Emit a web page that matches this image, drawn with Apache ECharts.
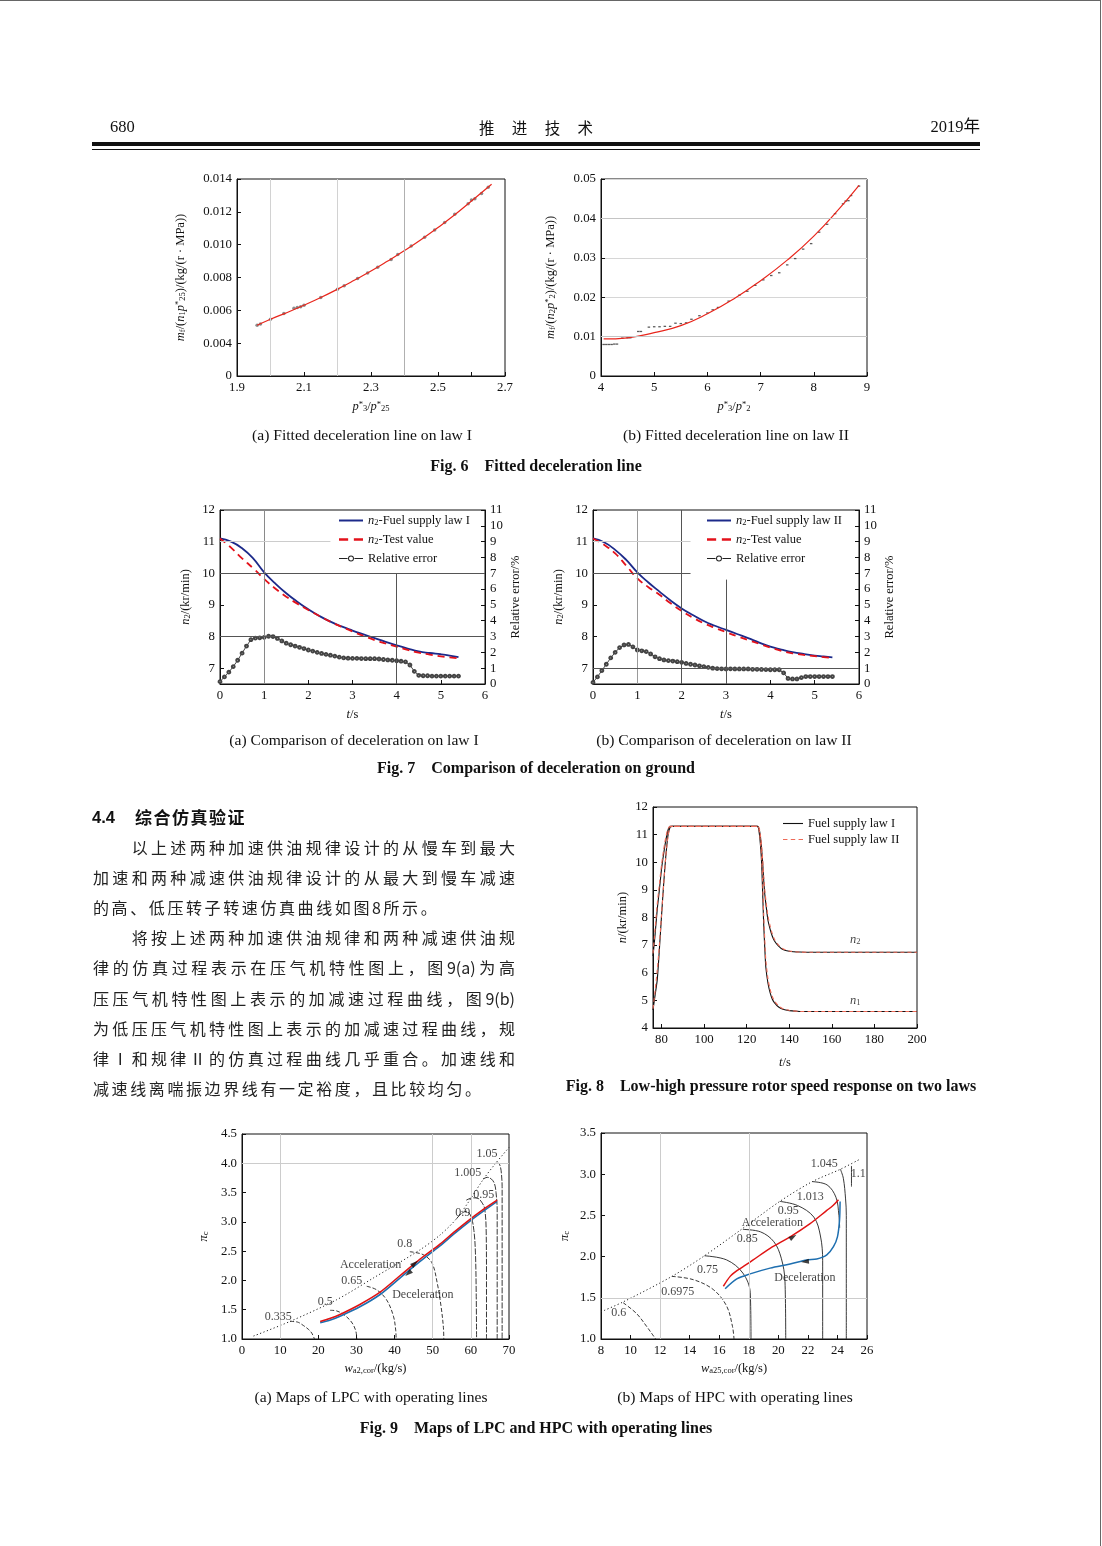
<!DOCTYPE html>
<html><head><meta charset="utf-8">
<script src="https://cdn.jsdelivr.net/npm/echarts@6/dist/echarts.min.js"></script>
<style>
html,body{margin:0;padding:0;background:#fff;}
#page{position:relative;width:1102px;height:1546px;overflow:hidden;background:#fff;}
#chart{position:absolute;left:0;top:0;width:1102px;height:1546px;}
.t{position:absolute;white-space:nowrap;color:#111;}
.cap{position:absolute;width:500px;text-align:center;font-family:'Liberation Serif',serif;font-size:15.6px;line-height:18px;color:#111;white-space:pre;}
.fig{font-weight:bold;font-size:16px;}
.para{position:absolute;left:93px;width:422px;font-family:'Noto Sans CJK SC',sans-serif;font-size:16px;line-height:20px;color:#222;}
.just{text-align:justify;text-align-last:justify;}
.last{letter-spacing:2.6px;}
</style></head>
<body><div id="page"><div id="chart"></div></div>
<script>
// ---------------- DATA ----------------
// Fig.6(a)
const fig6aFitX = [1.96,2.0,2.05,2.1,2.15,2.2,2.25,2.3,2.35,2.4,2.45,2.5,2.55,2.6,2.66];
const fig6aFitY = [0.00509,0.00546,0.00587,0.00631,0.00678,0.00729,0.00783,0.00839,0.00900,0.00964,0.01032,0.01105,0.01182,0.01266,0.01368];
const fig6aPtsX = [1.96,1.97,2.0,2.04,2.07,2.08,2.09,2.1,2.15,2.2,2.22,2.26,2.29,2.32,2.36,2.38,2.42,2.46,2.49,2.52,2.55,2.59,2.6,2.61,2.63,2.65];
const fig6aPtsY = [0.00509,0.00516,0.00546,0.00580,0.00612,0.00618,0.00622,0.00631,0.00678,0.00728,0.00750,0.00794,0.00828,0.00862,0.00910,0.00940,0.00992,0.01045,0.01090,0.01135,0.01185,0.01250,0.01272,0.01280,0.01312,0.01350];
const fig6aYTicks = ['0','0.004','0.006','0.008','0.010','0.012','0.014'];
const fig6aXTicks = [1.9,2.1,2.3,2.5,2.7];
// Fig.6(b)
const fig6bFitX = [4.05,4.5,5,5.5,6,6.5,7,7.5,8,8.5,8.85];
const fig6bFitY = [0.0094,0.0097,0.0110,0.0128,0.0158,0.0196,0.0242,0.0294,0.0355,0.0428,0.0484];
const fig6bPtsX = [4.05,4.1,4.15,4.2,4.25,4.3,4.4,4.5,4.55,4.7,4.75,4.9,5.0,5.1,5.2,5.3,5.4,5.5,5.6,5.7,5.85,6.0,6.1,6.2,6.4,6.6,6.75,6.9,7.05,7.2,7.35,7.5,7.65,7.8,7.95,8.1,8.25,8.4,8.55,8.6,8.65,8.7,8.85];
const fig6bPtsY = [0.0080,0.0080,0.0080,0.0080,0.0081,0.0081,0.0096,0.0097,0.0097,0.0113,0.0113,0.0124,0.0125,0.0125,0.0126,0.0126,0.0134,0.0133,0.0135,0.0144,0.0153,0.0160,0.0168,0.0174,0.0190,0.0205,0.0215,0.0230,0.0244,0.0255,0.0262,0.0282,0.0298,0.0322,0.0336,0.0365,0.0385,0.0412,0.0437,0.0444,0.0445,0.0458,0.0482];
// Fig.7
const fig7T = [0,0.25,0.5,0.75,1,1.25,1.5,1.75,2,2.25,2.5,2.75,3,3.25,3.5,3.75,4,4.25,4.5,4.75,5,5.2,5.4];
const fig7aLaw = [11.10,11.00,10.79,10.47,10.03,9.68,9.37,9.10,8.86,8.65,8.47,8.32,8.19,8.07,7.95,7.83,7.72,7.62,7.53,7.48,7.44,7.40,7.35];
const fig7aTest = [11.10,10.81,10.47,10.16,9.82,9.52,9.26,9.04,8.84,8.65,8.47,8.31,8.16,8.02,7.89,7.78,7.68,7.58,7.49,7.43,7.37,7.34,7.31];
const fig7bLaw = [11.10,10.98,10.74,10.42,10.03,9.71,9.42,9.14,8.89,8.68,8.49,8.34,8.21,8.08,7.95,7.81,7.68,7.59,7.51,7.45,7.40,7.37,7.34];
const fig7bTest = [11.10,10.90,10.63,10.24,9.84,9.56,9.32,9.05,8.81,8.60,8.42,8.27,8.14,8.01,7.89,7.77,7.65,7.55,7.47,7.42,7.38,7.35,7.32];
const fig7ErrT = [0,0.1,0.2,0.3,0.4,0.5,0.6,0.7,0.8,0.9,1.0,1.1,1.2,1.3,1.4,1.5,1.6,1.7,1.8,1.9,2.0,2.1,2.2,2.3,2.4,2.5,2.6,2.7,2.8,2.9,3.0,3.1,3.2,3.3,3.4,3.5,3.6,3.7,3.8,3.9,4.0,4.1,4.2,4.3,4.4,4.5,4.6,4.7,4.8,4.9,5.0,5.1,5.2,5.3,5.4];
const fig7aErr = [0.15,0.45,0.75,1.1,1.5,1.95,2.4,2.8,2.9,2.92,2.95,3.02,3.0,2.88,2.72,2.58,2.48,2.40,2.32,2.24,2.15,2.08,2.0,1.93,1.87,1.82,1.76,1.70,1.65,1.63,1.62,1.62,1.61,1.60,1.60,1.60,1.58,1.55,1.52,1.50,1.47,1.44,1.40,1.20,0.80,0.55,0.52,0.52,0.50,0.50,0.50,0.50,0.50,0.50,0.50];
const fig7bErr = [0.10,0.45,0.85,1.25,1.65,2.0,2.3,2.47,2.5,2.35,2.15,2.1,2.05,1.9,1.72,1.60,1.52,1.48,1.45,1.41,1.37,1.30,1.25,1.20,1.15,1.10,1.05,1.0,0.97,0.96,0.95,0.96,0.95,0.95,0.95,0.95,0.93,0.93,0.92,0.91,0.90,0.90,0.90,0.70,0.35,0.32,0.32,0.40,0.47,0.47,0.47,0.47,0.47,0.47,0.47];
const fig7LeftTicks = [7,8,9,10,11,12];
// Fig.8
const fig8T = [76,77,78,79,80,81,82,83,84,85,100,120,125,125.5,126,126.5,127,127.5,128,128.5,129,130,131,132,133,135,137,140,145,150,200];
const fig8N2Law1 = [6.6,7.4,8.3,9.0,9.75,10.3,10.78,11.15,11.3,11.3,11.3,11.3,11.3,11.28,11.15,10.9,10.5,10.0,9.35,8.85,8.5,7.9,7.58,7.33,7.16,6.96,6.84,6.78,6.75,6.74,6.74];
const fig8N1Law1 = [4.65,5.2,5.75,6.85,8.05,9.2,10.2,10.95,11.27,11.3,11.3,11.3,11.3,11.25,11.0,10.6,10.0,8.9,7.75,6.9,6.2,5.62,5.28,5.05,4.92,4.76,4.68,4.63,4.6,4.6,4.6];
const fig8N2Law2 = [6.7,7.6,8.5,9.2,9.9,10.45,10.9,11.2,11.3,11.3,11.3,11.3,11.3,11.28,11.2,10.95,10.6,10.1,9.5,9.0,8.65,8.05,7.7,7.42,7.22,7.0,6.87,6.79,6.75,6.74,6.74];
const fig8N1Law2 = [4.7,5.35,6.1,7.0,8.1,9.2,10.2,10.9,11.28,11.3,11.3,11.3,11.3,11.27,11.1,10.7,10.2,9.3,8.1,7.2,6.45,5.78,5.4,5.15,4.98,4.8,4.7,4.64,4.6,4.6,4.6];
const fig8XTicks = [80,100,120,140,160,180,200];
// Fig.9(a) LPC map
const lpcSurgeX = [3,12.6,24.8,34.4,46.6,52,56.2,59.5,63.2,66.5,70];
const lpcSurgeY = [1.05,1.30,1.67,2.04,2.52,2.78,3.05,3.35,3.72,4.0,4.27];
const lpcSpeedNames = ['0.335','0.5','0.65','0.8','0.9','0.95','1.005','1.05'];
const lpcSpeedX = [
  [12.6,14.5,16.1,17.5,18.3,19.0],
  [23.1,24.8,26.6,28.2,29.2,29.9,30.1],
  [32.7,35.3,37.9,39.7,40.3,40.4],
  [44.0,47.5,49.8,51.2,52.2,52.8,52.9],
  [56.2,57.5,58.8,60.0,60.8,61.2,61.4,61.5],
  [58.8,60.5,61.9,63.0,63.6,64.0,64.1,64.1],
  [63.2,64.3,65.4,66.2,66.6,66.9,66.9],
  [66.5,67.2,67.7,68.0,68.2,68.2]
];
const lpcSpeedY = [
  [1.30,1.29,1.23,1.16,1.10,1.0],
  [1.49,1.48,1.42,1.33,1.24,1.12,1.0],
  [1.90,1.84,1.67,1.39,1.15,1.0],
  [2.49,2.44,2.30,1.95,1.55,1.2,1.0],
  [3.05,3.14,3.18,3.10,2.85,2.47,1.8,1.0],
  [3.37,3.41,3.40,3.32,3.23,2.9,2.0,1.0],
  [3.73,3.76,3.73,3.65,3.5,3.2,1.0],
  [4.0,4.0,3.95,3.83,3.6,1.0]
];
const lpcOpX = [20.5,23,25.7,30.9,36.2,41.4,46.6,51.9,55.5,59.1,63,66.9];
const lpcAccY = [1.30,1.35,1.42,1.59,1.80,2.08,2.36,2.62,2.82,3.01,3.20,3.37];
const lpcDecY = [1.28,1.32,1.39,1.55,1.76,2.04,2.32,2.59,2.79,2.98,3.17,3.35];
const lpcLabelX = [9.5,21.8,28.8,42.7,57.9,63.4,59.2,64.2,33.7,47.4];
const lpcLabelY = [1.38,1.64,2.0,2.63,3.15,3.46,3.84,4.16,2.27,1.75];
const lpcLabelText = ['0.335','0.5','0.65','0.8','0.9','0.95','1.005','1.05','Acceleration','Deceleration'];
// Fig.9(b) HPC map
const hpcSurgeX = [8,9.5,12.8,15.0,17.5,20.1,22.3,24.2,25.5];
const hpcSurgeY = [1.33,1.45,1.76,2.01,2.33,2.67,2.91,3.06,3.18];
const hpcSpeedX = [
  [9.5,10.4,11.1,11.5,11.7],
  [12.8,14.25,15.6,16.5,16.9,17.0],
  [15.0,16.5,17.6,18.1,18.15],
  [17.6,18.8,19.7,20.2,20.45,20.5],
  [20.1,21.3,22.4,22.85,23.0,23.0],
  [22.3,23.3,23.9,24.1,24.15],
  [24.2,24.4,24.55,24.6,24.6],
  [24.95,24.95]
];
const hpcSpeedY = [
  [1.44,1.31,1.15,1.05,1.0],
  [1.76,1.72,1.6,1.4,1.15,1.0],
  [2.01,1.96,1.80,1.56,1.0],
  [2.33,2.30,2.18,1.98,1.7,1.0],
  [2.67,2.62,2.48,2.25,1.95,1.0],
  [2.91,2.87,2.72,2.5,2.35],
  [3.06,2.95,2.7,2.5,1.0],
  [3.1,2.85]
];
const hpcAccX = [16.28,16.74,17.2,17.64,18.3,19.44,20.8,22.15,23.28,23.7,24.07];
const hpcAccY = [1.64,1.76,1.83,1.88,1.96,2.10,2.24,2.40,2.56,2.62,2.69];
const hpcDecX = [24.18,24.14,24.0,23.73,23.28,22.6,21.93,20.8,19.44,18.09,17.19,16.4];
const hpcDecY = [2.67,2.44,2.24,2.12,2.02,1.97,1.96,1.91,1.86,1.79,1.73,1.61];
const hpcLabelX = [23.1,25.4,22.16,20.67,17.9,15.2,13.2,9.2,19.6,21.8];
const hpcLabelY = [3.13,3.01,2.73,2.56,2.21,1.84,1.57,1.32,2.41,1.74];
const hpcLabelText = ['1.045','1.1','1.013','0.95','0.85','0.75','0.6975','0.6','Acceleration','Deceleration'];

// Page texts
const bodyLines = [
 '\u3000\u3000以上述两种加速供油规律设计的从慢车到最大',
 '加速和两种减速供油规律设计的从最大到慢车减速',
 '的高、低压转子转速仿真曲线如图8所示。',
 '\u3000\u3000将按上述两种加速供油规律和两种减速供油规',
 '律的仿真过程表示在压气机特性图上，图9(a)为高',
 '压压气机特性图上表示的加减速过程曲线，图9(b)',
 '为低压压气机特性图上表示的加减速过程曲线，规',
 '律Ⅰ和规律Ⅱ的仿真过程曲线几乎重合。加速线和',
 '减速线离喘振边界线有一定裕度，且比较均匀。'
];
const bodyIsLast = [false,false,true,false,false,false,false,false,true];
const captions = [
 {t:'(a) Fitted deceleration line on law I', x:362, y:435, b:false},
 {t:'(b) Fitted deceleration line on law II', x:736, y:435, b:false},
 {t:'Fig. 6    Fitted deceleration line', x:536, y:466, b:true},
 {t:'(a) Comparison of deceleration on law I', x:354, y:740, b:false},
 {t:'(b) Comparison of deceleration on law II', x:724, y:740, b:false},
 {t:'Fig. 7    Comparison of deceleration on ground', x:536, y:768, b:true},
 {t:'Fig. 8    Low-high pressure rotor speed response on two laws', x:771, y:1086, b:true},
 {t:'(a) Maps of LPC with operating lines', x:371, y:1397, b:false},
 {t:'(b) Maps of HPC with operating lines', x:735, y:1397, b:false},
 {t:'Fig. 9    Maps of LPC and HPC with operating lines', x:536, y:1428, b:true}
];

// ---------------- PAGE TEXT (HTML) ----------------
const page = document.getElementById('page');
function addDiv(html, css, cls){ const d=document.createElement('div'); d.className=cls||'t'; d.style.cssText=css; d.innerHTML=html; page.appendChild(d); return d; }
addDiv('', 'position:absolute;left:0;top:0;width:1101px;height:1px;background:#666;');
addDiv('', 'position:absolute;left:1100px;top:0;width:1px;height:1546px;background:#666;');
addDiv('680', "left:110px;top:117px;font-family:'Liberation Serif';font-size:16.5px;line-height:20px;");
addDiv('推进技术', "left:479px;top:117px;width:114px;font-family:'Noto Sans CJK SC';font-size:15.5px;line-height:20px;text-align:justify;text-align-last:justify;white-space:normal;");
addDiv('2019年', "right:122px;top:117px;font-family:'Liberation Serif','Noto Sans CJK SC';font-size:16.5px;line-height:20px;");
addDiv('', 'position:absolute;left:92px;top:141.5px;width:888px;height:4px;background:#111;');
addDiv('', 'position:absolute;left:92px;top:148.5px;width:888px;height:1px;background:#111;');
captions.forEach(c => addDiv(c.t, 'left:'+(c.x-250)+'px;top:'+(c.y-9)+'px;', 'cap'+(c.b?' fig':'')));
addDiv('4.4', "left:92px;top:807px;font-family:'Liberation Sans';font-weight:bold;font-size:16.5px;line-height:20px;");
addDiv('综合仿真验证', "left:135px;top:807px;font-family:'Noto Sans CJK SC';font-weight:bold;font-size:17px;line-height:20px;letter-spacing:1.5px;");
bodyLines.forEach((s,i) => addDiv(s, 'top:'+(837+i*30.1).toFixed(1)+'px;', 'para '+(bodyIsLast[i]?'last':'just')));

// ---------------- CHART ----------------
const F = 'Liberation Serif';
const rich = {
  i:{fontStyle:'italic',fontFamily:F,fontSize:12.5,color:'#111'},
  n:{fontFamily:F,fontSize:12.5,color:'#111'},
  s:{fontFamily:F,fontSize:8.5,color:'#111',verticalAlign:'bottom',lineHeight:9},
  p:{fontFamily:F,fontSize:8.5,color:'#111',verticalAlign:'top',lineHeight:9}
};
const zip = (xs, ys) => xs.map((x,k) => [x, ys[k]]);
function ax(extra){
  const base = {
    type:'value', nameLocation:'middle',
    nameTextStyle:{fontFamily:F,fontSize:12.5,color:'#111',rich:rich},
    axisLine:{show:true,onZero:false,lineStyle:{color:'#111',width:1}},
    axisTick:{show:true,inside:true,length:4,lineStyle:{color:'#111',width:1}},
    axisLabel:{color:'#111',fontFamily:F,fontSize:12.8,margin:5},
    splitLine:{show:false}
  };
  const o = Object.assign({}, base, extra);
  if (extra.axisLabel) o.axisLabel = Object.assign({}, base.axisLabel, extra.axisLabel);
  if (extra.axisTick) o.axisTick = Object.assign({}, base.axisTick, extra.axisTick);
  return o;
}
const grids = [
  {left:237,top:179,width:268,height:197},
  {left:601,top:179,width:266,height:197},
  {left:220,top:510,width:265,height:174},
  {left:593,top:510,width:266,height:174},
  {left:653,top:807,width:264,height:221},
  {left:242,top:1134,width:267,height:205},
  {left:601,top:1133,width:266,height:206}
].map(g => Object.assign({show:true,borderColor:'#111',borderWidth:1,backgroundColor:'transparent',containLabel:false,outerBoundsMode:'none'}, g));

const xAxes = [
  ax({gridIndex:0,min:1.9,max:2.7,interval:0.1,axisLabel:{customValues:fig6aXTicks,formatter:v=>v.toFixed(1)},name:'{i|p}{p|*}{s|3}{n|/}{i|p}{p|*}{s|25}',nameGap:24}),
  ax({gridIndex:1,min:4,max:9,interval:1,name:'{i|p}{p|*}{s|3}{n|/}{i|p}{p|*}{s|2}',nameGap:24}),
  ax({gridIndex:2,min:0,max:6,interval:1,name:'{i|t}{n|/s}',nameGap:24}),
  ax({gridIndex:3,min:0,max:6,interval:1,name:'{i|t}{n|/s}',nameGap:24}),
  ax({gridIndex:4,min:76,max:200,axisLabel:{customValues:fig8XTicks},axisTick:{customValues:fig8XTicks},name:'{i|t}{n|/s}',nameGap:28}),
  ax({gridIndex:5,min:0,max:70,interval:10,name:'{i|w}{s|a2,cor}{n|/(kg/s)}',nameGap:23}),
  ax({gridIndex:6,min:8,max:26,interval:2,name:'{i|w}{s|a25,cor}{n|/(kg/s)}',nameGap:23})
];
const yAxes = [
  ax({gridIndex:0,min:0.002,max:0.014,interval:0.002,axisLabel:{formatter:(v,i)=>fig6aYTicks[i]},name:'{i|m}{s|f}{n|/(}{i|n}{s|1}{i|p}{p|*}{s|25}{n|)/(kg/(r · MPa))}',nameRotate:90,nameGap:50}),
  ax({gridIndex:1,min:0,max:0.05,interval:0.01,axisLabel:{formatter:v=>v===0?'0':v.toFixed(2)},splitLine:{show:true,lineStyle:{color:'#d6d6d6',width:1}},name:'{i|m}{s|f}{n|/(}{i|n}{s|2}{i|p}{p|*}{s|2}{n|)/(kg/(r · MPa))}',nameRotate:90,nameGap:44}),
  ax({gridIndex:2,min:6.5,max:12,axisLabel:{customValues:fig7LeftTicks},axisTick:{customValues:fig7LeftTicks},name:'{i|n}{s|2}{n|/(kr/min)}',nameRotate:90,nameGap:28}),
  ax({gridIndex:2,position:'right',min:0,max:11,interval:1,name:'Relative error/%',nameRotate:90,nameGap:24}),
  ax({gridIndex:3,min:6.5,max:12,axisLabel:{customValues:fig7LeftTicks},axisTick:{customValues:fig7LeftTicks},name:'{i|n}{s|2}{n|/(kr/min)}',nameRotate:90,nameGap:28}),
  ax({gridIndex:3,position:'right',min:0,max:11,interval:1,name:'Relative error/%',nameRotate:90,nameGap:24}),
  ax({gridIndex:4,min:4,max:12,interval:1,name:'{i|n}{n|/(kr/min)}',nameRotate:90,nameGap:24}),
  ax({gridIndex:5,min:1,max:4.5,interval:0.5,axisLabel:{formatter:v=>v.toFixed(1)},name:'{i|π}{s|c}',nameRotate:90,nameGap:32}),
  ax({gridIndex:6,min:1,max:3.5,interval:0.5,axisLabel:{formatter:v=>v.toFixed(1)},name:'{i|π}{s|c}',nameRotate:90,nameGap:30})
];

const series = [];
function gl(xi, yi, segs, color){
  series.push({type:'line',xAxisIndex:xi,yAxisIndex:yi,data:[],silent:true,z:1,
    markLine:{silent:true,symbol:'none',animation:false,label:{show:false},lineStyle:{color:color,width:1,type:'solid'},
      data:segs.map(s=>[{coord:[s[0],s[1]]},{coord:[s[2],s[3]]}])}});
}
function ln(xi, yi, data, color, width, type, extra){
  series.push(Object.assign({type:'line',xAxisIndex:xi,yAxisIndex:yi,data:data,symbol:'none',smooth:0.3,z:3,
    lineStyle:{color:color,width:width,type:type||'solid'},itemStyle:{color:color}}, extra||{}));
}
function lbl(xi, yi, xs, ys, texts){
  series.push({type:'scatter',xAxisIndex:xi,yAxisIndex:yi,symbolSize:0,z:5,silent:true,
    data:xs.map((x,k)=>[x,ys[k],texts[k]]),
    label:{show:true,position:'inside',formatter:p=>p.value[2],color:'#111',fontFamily:F,fontSize:12,rich:rich}});
}
function arrows(xi, yi, pts, color){
  pts.forEach(p => series.push({type:'scatter',xAxisIndex:xi,yAxisIndex:yi,symbol:'triangle',symbolSize:[5,8],symbolRotate:p[2],z:6,silent:true,
    itemStyle:{color:color},data:[[p[0],p[1]]]}));
}

// Fig 6a
gl(0,0,[[2.0,0.002,2.0,0.014],[2.2,0.002,2.2,0.014]],'#d2d2d2');
gl(0,0,[[2.4,0.002,2.4,0.014]],'#b0b0b0');
series.push({type:'scatter',xAxisIndex:0,yAxisIndex:0,data:zip(fig6aPtsX,fig6aPtsY),symbol:'circle',symbolSize:3.5,itemStyle:{color:'#6f6f6f'},z:2});
ln(0,0,zip(fig6aFitX,fig6aFitY),'#e8261c',1.2,'solid',{smooth:true});
// Fig 6b
gl(1,1,[[4,0.01,9,0.01],[4,0.04,9,0.04]],'#c4c4c4');
series.push({type:'scatter',xAxisIndex:1,yAxisIndex:1,data:zip(fig6bPtsX,fig6bPtsY),symbol:'rect',symbolSize:[2.5,1.3],itemStyle:{color:'#333'},z:2});
ln(1,1,zip(fig6bFitX,fig6bFitY),'#e8261c',1.2,'solid',{smooth:true});
// Fig 7a
gl(2,2,[[1,6.5,1,12]],'#8a8a8a');
gl(2,2,[[4,6.5,4,10],[0,10,6,10],[0,8,6,8]],'#555');
gl(2,2,[[0,11,2.5,11]],'#cccccc');
ln(2,2,zip(fig7T,fig7aLaw),'#1c2a8a',1.8,'solid',{name:'n2-Fuel supply law I',smooth:true});
ln(2,2,zip(fig7T,fig7aTest),'#e3121b',1.8,[7,5],{name:'n2-Test value',smooth:true});
ln(2,3,zip(fig7ErrT,fig7aErr),'#444',1,'solid',{name:'Relative error',smooth:false,symbol:'emptyCircle',symbolSize:2.8,showAllSymbol:true,itemStyle:{color:'#444',borderWidth:0.8}});
// Fig 7b
gl(3,4,[[1,6.5,1,12]],'#9a9a9a');
gl(3,4,[[2,6.5,2,12],[3,6.5,3,9.8],[0,10,2.2,10],[0,7,6,7]],'#555');
gl(3,4,[[0,11,2.2,11]],'#cccccc');
ln(3,4,zip(fig7T,fig7bLaw),'#1c2a8a',1.8,'solid',{name:'n2-Fuel supply law II',smooth:true});
ln(3,4,zip(fig7T,fig7bTest),'#e3121b',1.8,[7,5],{name:'n2-Test value',smooth:true});
ln(3,5,zip(fig7ErrT,fig7bErr),'#444',1,'solid',{name:'Relative error',smooth:false,symbol:'emptyCircle',symbolSize:2.8,showAllSymbol:true,itemStyle:{color:'#444',borderWidth:0.8}});
// Fig 8
ln(4,6,zip(fig8T,fig8N2Law1),'#111',1.1,'solid',{name:'Fuel supply law I',smooth:0.25});
ln(4,6,zip(fig8T,fig8N1Law1),'#111',1.1,'solid',{name:'Fuel supply law I',smooth:0.25});
ln(4,6,zip(fig8T,fig8N2Law2),'#ee6a58',1.1,[4,3],{name:'Fuel supply law II',smooth:0.25});
ln(4,6,zip(fig8T,fig8N1Law2),'#ee6a58',1.1,[4,3],{name:'Fuel supply law II',smooth:0.25});
lbl(4,6,[171,171],[7.19,4.98],['{i|n}{s|2}','{i|n}{s|1}']);
// Fig 9a
gl(5,7,[[10,1,10,4.5],[50,1,50,4.5],[60,1,60,4.5],[0,4,70,4]],'#cccccc');
ln(5,7,zip(lpcSurgeX,lpcSurgeY),'#222',1,[1.2,2.4],{smooth:0.3});
lpcSpeedX.forEach((xs,k)=>ln(5,7,zip(xs,lpcSpeedY[k]),'#222',0.9,k<4?[4,2]:[6,1.5],{smooth:0.35,name:'LPC '+lpcSpeedNames[k]}));
ln(5,7,zip(lpcOpX,lpcDecY),'#1e6fb0',1.6,'solid',{smooth:0.3});
ln(5,7,zip(lpcOpX,lpcAccY),'#e01414',1.6,'solid',{smooth:0.3});
arrows(5,7,[[45.3,2.29,-50],[43.6,2.12,130]],'#111');
lbl(5,7,lpcLabelX,lpcLabelY,lpcLabelText);
// Fig 9b
gl(6,8,[[12,1,12,3.5],[18,1,18,3.5],[8,1.5,26,1.5]],'#cccccc');
ln(6,8,zip(hpcSurgeX,hpcSurgeY),'#222',1,[1.2,2.4],{smooth:0.3});
hpcSpeedX.forEach((xs,k)=>ln(6,8,zip(xs,hpcSpeedY[k]),'#222',0.9,k<2?[4,2]:'solid',{smooth:0.35}));
ln(6,8,zip(hpcDecX,hpcDecY),'#1e6fb0',1.5,'solid',{smooth:0.3});
ln(6,8,zip(hpcAccX,hpcAccY),'#e01414',1.5,'solid',{smooth:0.3});
arrows(6,8,[[21.0,2.24,-57],[21.8,1.94,95]],'#111');
lbl(6,8,hpcLabelX,hpcLabelY,hpcLabelText);

// legend icons (shapes only)
const ICON_SOLID = 'path://M0,0H24V2H0Z';
const ICON_DASH = 'path://M0,0H8V2H0Z M13,0H21V2H13Z';
const ICON_ERR = 'path://M0,2.5H8.6V3.5H0Z M15.4,2.5H24V3.5H15.4Z M12,0A3,3 0 1,1 11.99,0Z M12,1A2,2 0 1,0 12.01,1Z';
const ICON_THIN = 'path://M0,0H20V1.1H0Z';
const ICON_THIN_DASH = 'path://M0,0H4V1.1H0Z M7,0H11V1.1H7Z M14,0H18V1.1H14Z';
const legendText = {fontFamily:F,fontSize:12.5,color:'#111',rich:rich};
const legFmt = name => name.indexOf('n2-')===0 ? '{i|n}{s|2}{n|'+name.slice(2)+'}' : name;
const legends = [
  {left:339,top:514,data:[{name:'n2-Fuel supply law I',icon:ICON_SOLID,itemStyle:{color:'#1c2a8a'}},{name:'n2-Test value',icon:ICON_DASH,itemStyle:{color:'#e3121b'}},{name:'Relative error',icon:ICON_ERR,itemStyle:{color:'#222'}}]},
  {left:707,top:514,data:[{name:'n2-Fuel supply law II',icon:ICON_SOLID,itemStyle:{color:'#1c2a8a'}},{name:'n2-Test value',icon:ICON_DASH,itemStyle:{color:'#e3121b'}},{name:'Relative error',icon:ICON_ERR,itemStyle:{color:'#222'}}]},
  {left:783,top:817,data:[{name:'Fuel supply law I',icon:ICON_THIN,itemStyle:{color:'#111'}},{name:'Fuel supply law II',icon:ICON_THIN_DASH,itemStyle:{color:'#ee6a58'}}],itemGap:3,itemWidth:20}
].map(l => Object.assign({orient:'vertical',itemGap:6,itemWidth:24,itemHeight:14,selectedMode:false,formatter:legFmt,textStyle:legendText,padding:0}, l));

const chart = echarts.init(document.getElementById('chart'), null, {renderer:'canvas'});
chart.setOption({animation:false,backgroundColor:'transparent',grid:grids,xAxis:xAxes,yAxis:yAxes,legend:legends,series:series});
</script>
</body></html>
